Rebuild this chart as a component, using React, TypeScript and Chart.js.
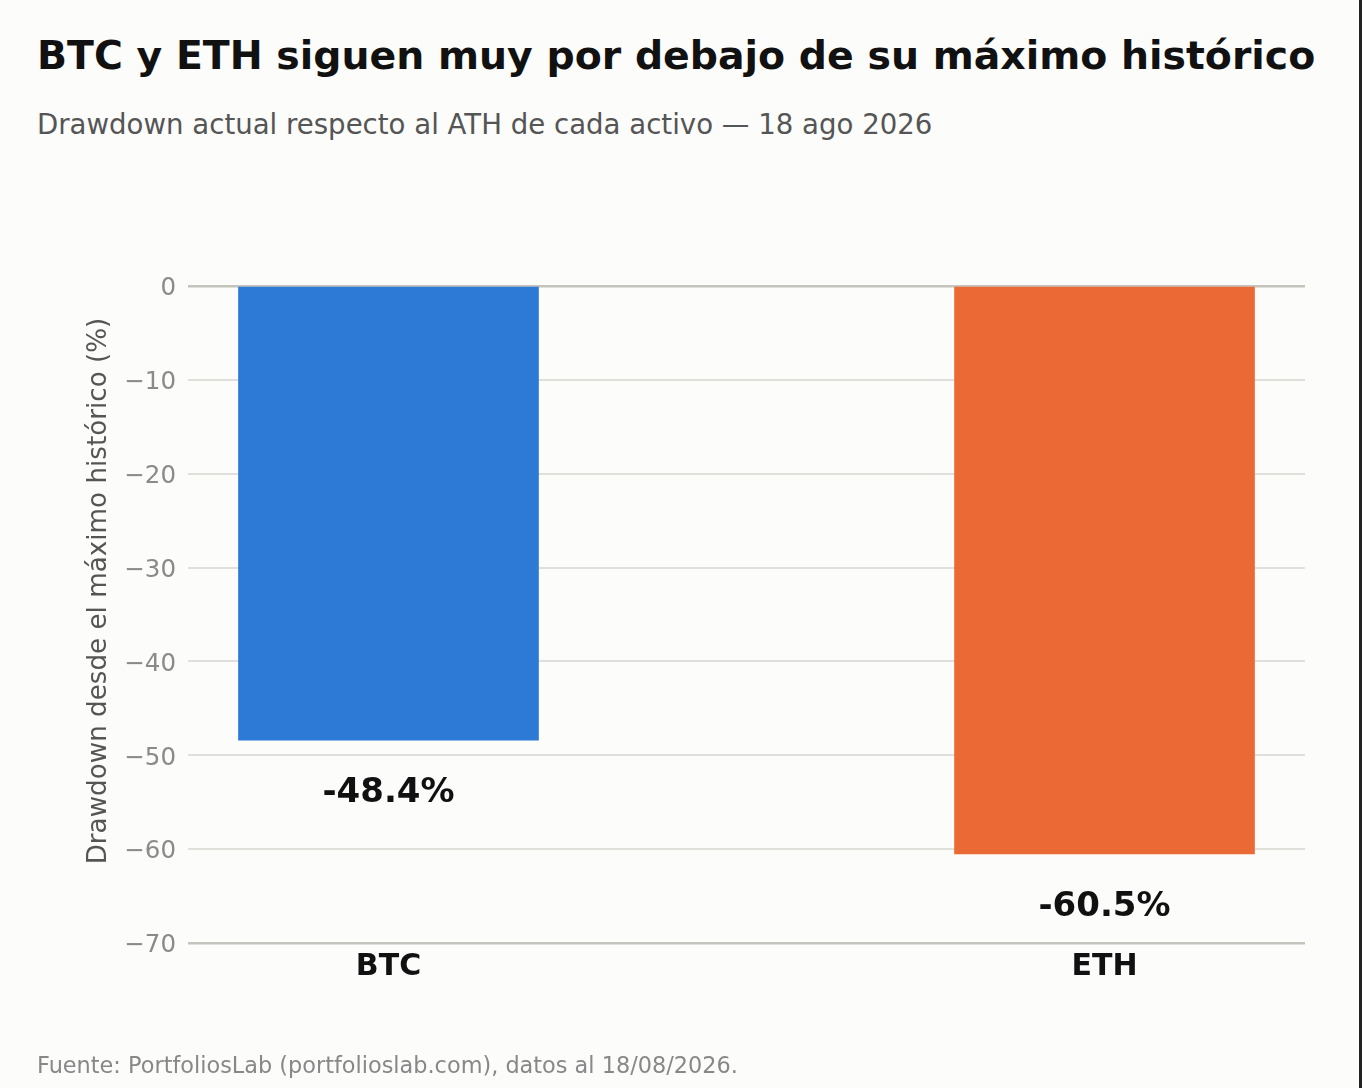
import { useRef, useEffect } from 'react';
import { Chart, registerables } from 'chart.js';

Chart.register(...registerables);

const categories = ['BTC', 'ETH'];
const drawdowns = [-48.4, -60.5];
const barColors = ['#2d7ad6', '#eb6935'];
const yTicks = [0, -10, -20, -30, -40, -50, -60, -70];

const FONT = '"DejaVu Sans", "Noto Sans", sans-serif';

// etiquetas de valor bajo cada barra
const valueLabels = {
  id: 'valueLabels',
  afterDatasetsDraw(chart: Chart) {
    const { ctx } = chart;
    const meta = chart.getDatasetMeta(0);
    ctx.save();
    ctx.font = `bold 34px ${FONT}`;
    ctx.fillStyle = '#111';
    ctx.textAlign = 'center';
    ctx.textBaseline = 'middle';
    meta.data.forEach((el: any, i: number) => {
      ctx.fillText(`${drawdowns[i].toFixed(1)}%`, el.x, el.y + 53);
    });
    ctx.restore();
  },
};

function DrawdownChart() {
  const chartRef = useRef<HTMLCanvasElement>(null);

  useEffect(() => {
    if (!chartRef.current) return;
    const chart = new Chart(chartRef.current, {
      type: 'bar',
      data: {
        datasets: [
          {
            data: drawdowns.map((v, i) => ({ x: i, y: v })),
            backgroundColor: barColors,
            barThickness: 300,
          },
        ],
      },
      options: {
        animation: false,
        responsive: true,
        maintainAspectRatio: false,
        layout: { padding: { top: 39, right: 25, left: 0, bottom: 0 } },
        plugins: {
          legend: { display: false },
          tooltip: { enabled: false },
        },
        scales: {
          x: {
            type: 'linear',
            min: -0.28,
            max: 1.28,
            offset: false,
            grid: { display: false, offset: false },
            border: { display: false },
            afterBuildTicks: (scale: any) => {
              scale.ticks = categories.map((_, i) => ({ value: i }));
            },
            afterFit: (scale: any) => {
              scale.height = 117;
            },
            ticks: {
              padding: -2,
              color: '#111',
              font: { family: FONT, size: 30, weight: 'bold' },
              callback: (v: any) => categories[Number(v)] ?? '',
            },
          },
          y: {
            type: 'linear',
            min: -70,
            max: 5,
            border: { display: false },
            afterBuildTicks: (scale: any) => {
              scale.ticks = yTicks.slice().reverse().map((v) => ({ value: v }));
            },
            afterFit: (scale: any) => {
              scale.width = 188;
            },
            grid: {
              drawTicks: false,
              color: (c: any) => (c.tick && (c.tick.value === 0 || c.tick.value === -70) ? '#c4c4bc' : '#e0e0db'),
              lineWidth: (c: any) => (c.tick && (c.tick.value === 0 || c.tick.value === -70) ? 2.5 : 2),
            },
            ticks: {
              padding: 12,
              labelOffset: 3,
              color: '#8a8a8a',
              font: { family: FONT, size: 24.5 },
              callback: (v: any) => (Number(v) < 0 ? `\u2212${Math.abs(Number(v))}` : `${v}`),
            },
            title: {
              display: true,
              text: 'Drawdown desde el máximo histórico (%)',
              color: '#555',
              font: { family: FONT, size: 26.2, lineHeight: 1.2 },
              padding: { top: 83, bottom: 0 },
            },
          },
        },
      },
      plugins: [valueLabels],
    });
    return () => chart.destroy();
  }, []);

  return (
    <div style={{ position: 'absolute', left: 0, top: 200, width: 1330, height: 860 }}>
      <canvas ref={chartRef}></canvas>
    </div>
  );
}

export default function App() {
  return (
    <div
      style={{
        position: 'absolute',
        left: 0,
        top: 0,
        width: 1362,
        height: 1088,
        background: '#fcfcfb',
        boxSizing: 'border-box',
        borderRight: '3px solid #222',
        fontFamily: FONT,
        overflow: 'hidden',
      }}
    >
      <div style={{ position: 'absolute', left: 37, top: 36, fontSize: 39.4, lineHeight: 1, fontWeight: 'bold', color: '#111', whiteSpace: 'nowrap' }}>
        BTC y ETH siguen muy por debajo de su máximo histórico
      </div>
      <div style={{ position: 'absolute', left: 37, top: 111, fontSize: 27.6, lineHeight: 1, color: '#555', whiteSpace: 'nowrap' }}>
        Drawdown actual respecto al ATH de cada activo — 18 ago 2026
      </div>
      <DrawdownChart />
      <div style={{ position: 'absolute', left: 37, top: 1054, fontSize: 22.4, lineHeight: 1, color: '#888', whiteSpace: 'nowrap' }}>
        Fuente: PortfoliosLab (portfolioslab.com), datos al 18/08/2026.
      </div>
    </div>
  );
}
